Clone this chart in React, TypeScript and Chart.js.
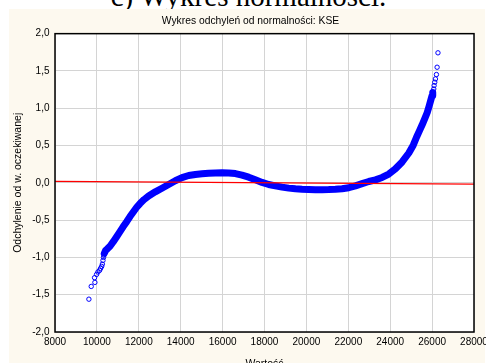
import React, { useEffect, useRef } from "react";
import { Chart, registerables } from "chart.js";

Chart.register(...registerables);

// Sparse observations at the low end of the sample (drawn as open circles)
const lowerTailValue = [9618, 9729, 9888, 9904, 9984, 10048, 10127, 10175, 10229, 10260, 10290, 10315, 10335];
const lowerTailDeviation = [-1.56, -1.389, -1.272, -1.335, -1.228, -1.196, -1.174, -1.147, -1.12, -1.09, -1.04, -1.0, -0.97];

// Dense body of the sample: value vs. deviation from the expected normal value
const bandValue = [
  10353, 10420, 10500, 10625, 10783, 10950, 11102, 11250, 11422, 11580, 11737, 11900, 12057, 12250,
  12468, 12787, 13105, 13424, 13742, 14061, 14380, 14698, 15017, 15335, 15654, 15972, 16290, 16609,
  16927, 17246, 17564, 17883, 18201, 18520, 18838, 19156, 19475, 19793, 20112, 20430, 20749, 21067,
  21386, 21704, 22022, 22341, 22659, 22978, 23296, 23615, 23933, 24252, 24570, 24889, 25100, 25261,
  25400, 25526, 25650, 25764, 25850, 25930, 26000, 26030,
];
const bandDeviation = [
  -0.946, -0.905, -0.885, -0.85, -0.789, -0.72, -0.655, -0.59, -0.521, -0.452, -0.39, -0.328, -0.278, -0.225,
  -0.176, -0.121, -0.072, -0.022, 0.028, 0.07, 0.098, 0.112, 0.121, 0.129, 0.133, 0.134, 0.133, 0.124,
  0.103, 0.076, 0.042, 0.006, -0.022, -0.041, -0.058, -0.071, -0.08, -0.086, -0.09, -0.093, -0.093, -0.091,
  -0.087, -0.08, -0.066, -0.04, -0.01, 0.018, 0.04, 0.072, 0.118, 0.188, 0.28, 0.4, 0.505, 0.615,
  0.7, 0.778, 0.86, 0.94, 1.02, 1.1, 1.17, 1.21,
];

// Sparse observations at the high end of the sample
const upperTailValue = [26047, 26079, 26095, 26127, 26159, 26207, 26239, 26280];
const upperTailDeviation = [1.205, 1.259, 1.304, 1.349, 1.393, 1.452, 1.55, 1.743];

// Reference line (zero deviation fit)
const referenceValue = [8000, 28000];
const referenceDeviation = [0.02, -0.018];

// Axis ticks
const xTickValues = [8000, 10000, 12000, 14000, 16000, 18000, 20000, 22000, 24000, 26000, 28000];
const yTickValues = [-2, -1.5, -1, -0.5, 0, 0.5, 1, 1.5, 2];

const toPoints = (xs: number[], ys: number[]) => xs.map((x, i) => ({ x, y: ys[i] }));

const FONT = '"Liberation Sans", Arial, sans-serif';
const BLUE = "#0000ff";

const plotFrame = {
  id: "plotFrame",
  beforeDraw(chart: any) {
    const { ctx, chartArea: a } = chart;
    ctx.save();
    ctx.fillStyle = "#ffffff";
    ctx.fillRect(a.left, a.top, a.right - a.left, a.bottom - a.top);
    ctx.restore();
  },
  afterDraw(chart: any) {
    const { ctx, chartArea: a } = chart;
    ctx.save();
    ctx.strokeStyle = "#000000";
    ctx.lineWidth = 1.5;
    ctx.strokeRect(a.left, a.top, a.right - a.left, a.bottom - a.top);
    ctx.restore();
  },
};

export default function App() {
  const canvasRef = useRef<HTMLCanvasElement | null>(null);

  useEffect(() => {
    if (!canvasRef.current) return;
    const chart = new Chart(canvasRef.current, {
      type: "scatter",
      data: {
        datasets: [
          {
            label: "Linia odniesienia",
            data: toPoints(referenceValue, referenceDeviation),
            showLine: true,
            borderColor: "#ff0000",
            borderWidth: 1.3,
            pointRadius: 0,
            xAxisID: "x",
            yAxisID: "y",
          },
          {
            label: "Dolny ogon",
            data: toPoints(lowerTailValue, lowerTailDeviation),
            showLine: false,
            pointStyle: "circle",
            pointRadius: 2.2,
            pointBorderWidth: 1,
            pointBorderColor: BLUE,
            pointBackgroundColor: "rgba(0,0,0,0)",
            xAxisID: "x",
            yAxisID: "y",
          },
          {
            label: "KSE",
            data: toPoints(bandValue, bandDeviation),
            showLine: true,
            borderColor: BLUE,
            borderWidth: 7,
            borderJoinStyle: "round",
            borderCapStyle: "round",
            pointStyle: "circle",
            pointRadius: 2.2,
            pointBorderWidth: 1,
            pointBorderColor: BLUE,
            pointBackgroundColor: "rgba(0,0,0,0)",
            xAxisID: "x",
            yAxisID: "y",
          },
          {
            label: "Górny ogon",
            data: toPoints(upperTailValue, upperTailDeviation),
            showLine: false,
            pointStyle: "circle",
            pointRadius: 2.2,
            pointBorderWidth: 1,
            pointBorderColor: BLUE,
            pointBackgroundColor: "rgba(0,0,0,0)",
            xAxisID: "x",
            yAxisID: "y",
          },
        ],
      },
      options: {
        responsive: false,
        animation: false,
        devicePixelRatio: 1,
        layout: { padding: { left: 10, right: 9, top: 10, bottom: 0 } },
        plugins: {
          legend: { display: false },
          tooltip: { enabled: false },
          title: {
            display: true,
            text: "Wykres odchyleń od normalności: KSE",
            color: "#000",
            font: { family: FONT, size: 10.3, weight: "normal" },
            padding: { top: 4.8, bottom: 6.5 },
          },
        },
        scales: {
          x: {
            type: "linear",
            position: "bottom",
            min: 8000,
            max: 28000,
            afterBuildTicks: (scale: any) => {
              scale.ticks = xTickValues.map((value) => ({ value }));
            },
            afterFit: (scale: any) => {
              scale.height = 44;
            },
            grid: { color: "#d4d4d4", lineWidth: 1, drawTicks: false },
            border: { display: false },
            ticks: {
              color: "#000",
              font: { family: FONT, size: 10 },
              padding: 4.5,
              maxRotation: 0,
              autoSkip: false,
              callback: (v: any) => String(v),
            },
            title: {
              display: true,
              text: "Wartość",
              color: "#000",
              font: { family: FONT, size: 10.5 },
              padding: { top: 0, bottom: 6 },
            },
          },
          y: {
            type: "linear",
            position: "left",
            min: -2,
            max: 2,
            afterBuildTicks: (scale: any) => {
              scale.ticks = yTickValues.map((value) => ({ value }));
            },
            afterFit: (scale: any) => {
              scale.width = 45;
            },
            grid: { color: "#d4d4d4", lineWidth: 1, drawTicks: false },
            border: { display: false },
            ticks: {
              color: "#000",
              font: { family: FONT, size: 10 },
              padding: 5.5,
              autoSkip: false,
              callback: (v: any) => Number(v).toFixed(1).replace(".", ","),
            },
            title: {
              display: true,
              text: "Odchylenie od w. oczekiwanej",
              color: "#000",
              font: { family: FONT, size: 10.5 },
              padding: { top: 2.2, bottom: 0 },
            },
          },
          yRight: {
            type: "linear",
            position: "right",
            min: -2,
            max: 2,
            afterFit: (scale: any) => {
              scale.width = 17;
            },
            grid: { display: false },
            border: { display: false },
            ticks: { display: false },
          },
        },
      },
      plugins: [plotFrame],
    } as any);
    return () => chart.destroy();
  }, []);

  return (
    <div
      style={{
        position: "absolute",
        left: 0,
        top: 0,
        width: 486,
        height: 363,
        overflow: "hidden",
        background: "#ffffff",
      }}
    >
      <div
        style={{
          position: "absolute",
          left: 0,
          top: -18.3,
          width: 497,
          textAlign: "center",
          fontFamily: '"Liberation Serif", "Times New Roman", serif',
          fontSize: 29,
          lineHeight: "29px",
          color: "#000",
          whiteSpace: "nowrap",
        }}
      >
        c) Wykres normalności.
      </div>
      <div
        style={{
          position: "absolute",
          left: 9,
          top: 9,
          width: 476,
          height: 354,
          background: "#fdf9ef",
        }}
      />
      <canvas
        ref={canvasRef}
        width={500}
        height={376}
        style={{ position: "absolute", left: 0, top: 0 }}
      />
    </div>
  );
}
